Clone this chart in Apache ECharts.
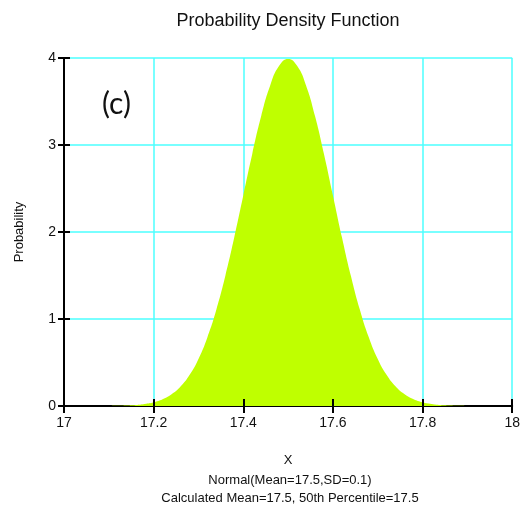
<!DOCTYPE html>
<html>
<head>
<meta charset="utf-8">
<script src="https://cdn.jsdelivr.net/npm/echarts@6/dist/echarts.min.js"></script>
<style>
  html, body { margin: 0; padding: 0; background: #fff; }
  #pdf_chart { width: 523px; height: 508px; }
</style>
</head>
<body>
<div id="pdf_chart"></div>
<script>
// x positions and the density
var xs = [17.00, 17.02, 17.04, 17.06, 17.08, 17.10, 17.12, 17.14, 17.16, 17.18,
          17.20, 17.22, 17.24, 17.26, 17.28, 17.30, 17.32, 17.34, 17.36, 17.38,
          17.40, 17.42, 17.44, 17.46, 17.48, 17.50, 17.52, 17.54, 17.56, 17.58,
          17.60, 17.62, 17.64, 17.66, 17.68, 17.70, 17.72, 17.74, 17.76, 17.78,
          17.80, 17.82, 17.84, 17.86, 17.88, 17.90, 17.92, 17.94, 17.96, 17.98, 18.00];
var density = [0, 0, 0, 0, 0, 0.001, 0.003, 0.006, 0.012, 0.024,
               0.044, 0.079, 0.136, 0.224, 0.355, 0.540, 0.790, 1.109, 1.497, 1.942,
               2.420, 2.897, 3.332, 3.683, 3.910, 3.989, 3.910, 3.683, 3.332, 2.897,
               2.420, 1.942, 1.497, 1.109, 0.790, 0.540, 0.355, 0.224, 0.136, 0.079,
               0.044, 0.024, 0.012, 0.006, 0.003, 0.001, 0, 0, 0, 0, 0];
var footLines = ['Normal(Mean=17.5,SD=0.1)', 'Calculated Mean=17.5, 50th Percentile=17.5'];

var chartDom = document.getElementById('pdf_chart');
var myChart = echarts.init(chartDom);
var option;

var pts = xs.map(function (x, i) { return [x, density[i]]; });
var font = 'Liberation Sans, Arial, sans-serif';
var cyan = '#4dffff';
var fmtX = function (v) { return String(parseFloat(v.toFixed(1))); };

option = {
  animation: false,
  backgroundColor: '#fff',
  title: [
    {
      text: 'Probability Density Function',
      left: 283, top: 7, textAlign: 'center',
      textStyle: { fontFamily: font, fontSize: 18, fontWeight: 'normal', color: '#111' }
    },
    {
      text: footLines.join('\n'),
      left: 285, top: 466, textAlign: 'center',
      textStyle: { fontFamily: font, fontSize: 13, fontWeight: 'normal', color: '#111', lineHeight: 18 }
    }
  ],
  grid: { left: 64, right: 9, top: 58, bottom: 102 },
  xAxis: [
    {
      type: 'value', min: 17, max: 18, interval: 0.2,
      name: 'X', nameLocation: 'middle', nameGap: 48,
      nameTextStyle: { fontFamily: font, fontSize: 13, color: '#111' },
      axisLine: { lineStyle: { color: '#000', width: 2 } },
      axisTick: { length: 7, lineStyle: { color: '#000', width: 2 } },
      axisLabel: { formatter: fmtX, margin: 10, fontFamily: font, fontSize: 14, color: '#111' },
      splitLine: { show: true, lineStyle: { color: cyan, width: 1.5 } }
    },
    {
      // inner half of the cross ticks
      type: 'value', min: 17, max: 18, interval: 0.2, position: 'bottom',
      axisLine: { show: false },
      axisTick: { inside: true, length: 7, lineStyle: { color: '#000', width: 2 } },
      axisLabel: { show: false },
      splitLine: { show: false },
      z: 5
    }
  ],
  yAxis: [
    {
      type: 'value', min: 0, max: 4, interval: 1,
      name: 'Probability', nameLocation: 'middle', nameGap: 38,
      nameTextStyle: { fontFamily: font, fontSize: 13, color: '#111' },
      axisLine: { show: true, lineStyle: { color: '#000', width: 2 } },
      axisTick: { show: true, length: 6, lineStyle: { color: '#000', width: 2 } },
      axisLabel: { margin: 8, fontFamily: font, fontSize: 14, color: '#111' },
      splitLine: { show: true, lineStyle: { color: cyan, width: 1.5 } }
    },
    {
      type: 'value', min: 0, max: 4, interval: 1, position: 'left',
      axisLine: { show: false },
      axisTick: { show: true, inside: true, length: 6, lineStyle: { color: '#000', width: 2 } },
      axisLabel: { show: false },
      splitLine: { show: false },
      z: 5
    }
  ],
  graphic: [
    {
      type: 'text', left: 102, top: 89,
      style: { text: '(c)', fontFamily: 'Lato, Noto Sans, sans-serif', fontSize: 30, fill: '#111' }
    }
  ],
  series: [
    {
      type: 'line',
      data: pts,
      smooth: true,
      symbol: 'none',
      lineStyle: { width: 0 },
      areaStyle: { color: '#bfff00', opacity: 1 },
      z: 1
    }
  ]
};

option && myChart.setOption(option);
</script>
</body>
</html>
